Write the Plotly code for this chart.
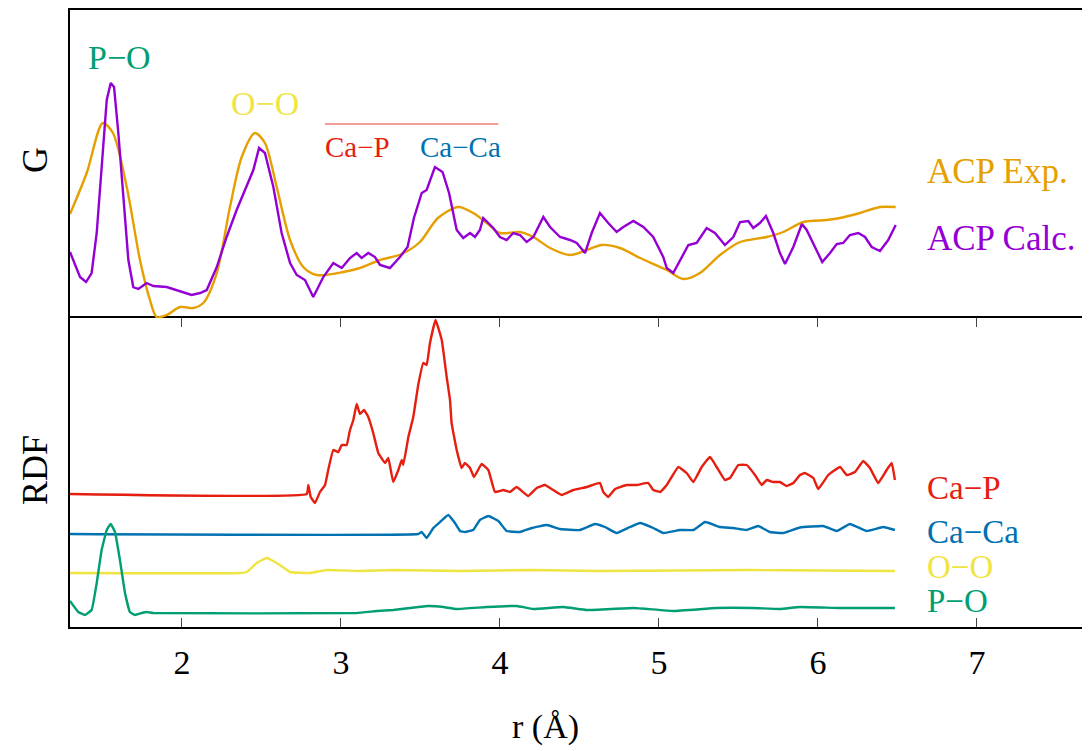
import plotly.graph_objects as go

# ---------------- data ----------------
# Top panel: total correlation G(r), arbitrary units
r_exp = [1.296, 1.401, 1.502, 1.566, 1.653, 1.736, 1.799, 1.841, 1.904, 1.988, 2.071, 2.134,
         2.219, 2.302, 2.376, 2.459, 2.522, 2.596, 2.680, 2.763, 2.847, 3.015, 3.120, 3.246,
         3.382, 3.497, 3.610, 3.738, 3.832, 3.917, 4.000, 4.126, 4.210, 4.315, 4.441, 4.546,
         4.640, 4.755, 4.881, 5.049, 5.153, 5.258, 5.384, 5.510, 5.678, 5.782, 5.908, 6.055,
         6.139, 6.264, 6.390, 6.489]
g_exp = [1.04, 1.45, 1.95, 1.85, 1.31, 0.58, 0.18, 0.01, 0.03, 0.11, 0.10, 0.15,
         0.45, 1.11, 1.61, 1.85, 1.75, 1.31, 0.78, 0.51, 0.43, 0.46, 0.50, 0.58,
         0.64, 0.76, 1.00, 1.11, 1.05, 0.95, 0.85, 0.86, 0.81, 0.70, 0.63, 0.68,
         0.73, 0.70, 0.60, 0.48, 0.39, 0.45, 0.63, 0.76, 0.81, 0.86, 0.96, 0.98,
         1.00, 1.05, 1.11, 1.11]

r_calc = [1.296, 1.359, 1.397, 1.432, 1.464, 1.495, 1.527, 1.552, 1.573, 1.600, 1.631, 1.663,
          1.694, 1.726, 1.778, 1.820, 1.904, 2.009, 2.061, 2.114, 2.156, 2.219, 2.281, 2.344,
          2.397, 2.449, 2.485, 2.522, 2.575, 2.627, 2.680, 2.722, 2.774, 2.826, 2.889, 2.952,
          3.005, 3.057, 3.099, 3.130, 3.172, 3.214, 3.246, 3.308, 3.371, 3.419, 3.459, 3.508,
          3.539, 3.591, 3.639, 3.680, 3.728, 3.769, 3.812, 3.843, 3.874, 3.895, 3.927, 3.958,
          4.000, 4.042, 4.084, 4.126, 4.168, 4.210, 4.273, 4.315, 4.378, 4.441, 4.483, 4.535,
          4.577, 4.629, 4.681, 4.734, 4.776, 4.839, 4.902, 4.964, 5.027, 5.049, 5.090, 5.132,
          5.185, 5.237, 5.300, 5.352, 5.415, 5.468, 5.510, 5.562, 5.593, 5.635, 5.673, 5.719,
          5.761, 5.793, 5.845, 5.899, 5.929, 5.981, 6.027, 6.076, 6.118, 6.159, 6.201, 6.254,
          6.296, 6.338, 6.390, 6.442, 6.489]
g_calc = [0.66, 0.41, 0.36, 0.45, 0.85, 1.51, 2.18, 2.35, 2.31, 1.85, 1.18, 0.58,
          0.31, 0.29, 0.35, 0.32, 0.31, 0.26, 0.23, 0.25, 0.28, 0.51, 0.81, 1.08,
          1.28, 1.48, 1.70, 1.65, 1.31, 0.85, 0.55, 0.43, 0.38, 0.21, 0.41, 0.55,
          0.50, 0.60, 0.65, 0.60, 0.65, 0.61, 0.53, 0.50, 0.61, 0.71, 1.00, 1.25,
          1.28, 1.51, 1.46, 1.25, 0.88, 0.80, 0.85, 0.81, 0.88, 1.00, 0.95, 0.90,
          0.81, 0.78, 0.85, 0.83, 0.76, 0.81, 1.01, 0.91, 0.81, 0.78, 0.75, 0.65,
          0.85, 1.05, 0.95, 0.86, 0.91, 0.97, 0.91, 0.81, 0.61, 0.50, 0.45, 0.58,
          0.73, 0.75, 0.90, 0.85, 0.73, 0.81, 0.96, 0.97, 0.90, 0.95, 1.02, 0.85,
          0.65, 0.54, 0.71, 0.94, 0.88, 0.71, 0.56, 0.65, 0.74, 0.75, 0.83, 0.85,
          0.81, 0.71, 0.67, 0.78, 0.93]

# Bottom panel: partial RDFs (value above each curve's own baseline)
r_cap = [1.296, 2.785, 2.795, 2.810, 2.837, 2.868, 2.900, 2.920, 2.952, 2.983, 3.005, 3.036,
         3.057, 3.078, 3.099, 3.120, 3.145, 3.172, 3.203, 3.235, 3.277, 3.298, 3.329, 3.361,
         3.382, 3.392, 3.424, 3.455, 3.486, 3.518, 3.539, 3.560, 3.595, 3.634, 3.665, 3.686,
         3.696, 3.728, 3.759, 3.780, 3.812, 3.837, 3.885, 3.927, 3.969, 4.021, 4.063, 4.105,
         4.178, 4.231, 4.283, 4.335, 4.388, 4.461, 4.546, 4.629, 4.650, 4.681, 4.724, 4.797,
         4.860, 4.933, 4.964, 5.007, 5.049, 5.122, 5.174, 5.216, 5.269, 5.321, 5.363, 5.415,
         5.447, 5.499, 5.552, 5.604, 5.646, 5.678, 5.719, 5.761, 5.803, 5.845, 5.887, 5.918,
         5.971, 6.002, 6.065, 6.139, 6.181, 6.233, 6.285, 6.327, 6.379, 6.432, 6.464, 6.484]
g_cap = [0.00, 0.00, 0.09, -0.03, -0.09, 0.02, 0.09, 0.24, 0.44, 0.42, 0.49, 0.49,
         0.64, 0.74, 0.90, 0.80, 0.84, 0.77, 0.61, 0.41, 0.31, 0.36, 0.12, 0.24,
         0.34, 0.29, 0.57, 0.77, 1.09, 1.31, 1.29, 1.51, 1.74, 1.54, 1.17, 0.94,
         0.71, 0.44, 0.26, 0.31, 0.26, 0.17, 0.30, 0.24, 0.02, 0.04, 0.02, 0.07,
         -0.02, 0.06, 0.09, 0.04, -0.01, 0.04, 0.07, 0.11, 0.02, -0.03, 0.05, 0.09,
         0.09, 0.11, 0.04, 0.02, 0.09, 0.27, 0.21, 0.12, 0.27, 0.37, 0.27, 0.14,
         0.16, 0.29, 0.29, 0.19, 0.09, 0.14, 0.12, 0.12, 0.08, 0.11, 0.19, 0.21,
         0.16, 0.05, 0.19, 0.27, 0.19, 0.22, 0.33, 0.26, 0.11, 0.24, 0.31, 0.14]

r_caca = [1.296, 3.486, 3.508, 3.539, 3.581, 3.623, 3.675, 3.717, 3.749, 3.780, 3.832, 3.874,
          3.927, 3.990, 4.042, 4.126, 4.200, 4.294, 4.378, 4.503, 4.598, 4.661, 4.734, 4.818,
          4.881, 4.964, 5.027, 5.132, 5.216, 5.290, 5.384, 5.468, 5.552, 5.625, 5.698, 5.782,
          5.887, 6.033, 6.118, 6.201, 6.306, 6.411, 6.484]
g_caca = [0.00, 0.00, 0.02, -0.04, 0.06, 0.12, 0.19, 0.11, 0.03, 0.02, 0.04, 0.14,
          0.18, 0.13, 0.03, 0.02, 0.06, 0.09, 0.05, 0.04, 0.10, 0.07, 0.01, 0.07,
          0.11, 0.06, 0.01, 0.04, 0.04, 0.12, 0.07, 0.06, 0.04, 0.08, 0.02, 0.01,
          0.065, 0.08, 0.03, 0.10, 0.03, 0.07, 0.04]

r_oo = [1.296, 2.365, 2.407, 2.470, 2.533, 2.596, 2.680, 2.805, 2.910, 3.120, 3.329, 3.749,
        4.189, 4.629, 5.132, 5.573, 6.013, 6.484]
g_oo = [0.00, 0.00, 0.01, 0.10, 0.15, 0.10, 0.01, 0.00, 0.03, 0.02, 0.03, 0.02,
        0.03, 0.02, 0.025, 0.03, 0.025, 0.02]

r_po = [1.296, 1.348, 1.390, 1.432, 1.464, 1.495, 1.527, 1.552, 1.579, 1.610, 1.642, 1.673,
        1.705, 1.747, 1.778, 1.820, 3.099, 3.225, 3.329, 3.434, 3.547, 3.644, 3.728, 3.917,
        4.105, 4.210, 4.398, 4.546, 4.839, 5.090, 5.363, 5.593, 5.761, 5.887, 6.139, 6.484]
g_po = [0.12, 0.01, -0.02, 0.03, 0.30, 0.63, 0.83, 0.89, 0.81, 0.53, 0.20, 0.01,
        -0.02, 0.00, 0.01, 0.00, 0.00, 0.02, 0.03, 0.05, 0.07, 0.06, 0.04, 0.06,
        0.07, 0.04, 0.06, 0.03, 0.05, 0.02, 0.05, 0.05, 0.04, 0.06, 0.05, 0.05]

x_ticks = [2, 3, 4, 5, 6, 7]

# ---------------- styling ----------------
ORANGE = "#E69F00"
PURPLE = "#9400D3"
RED = "#E51E10"
BLUE = "#0072B2"
YELLOW = "#F0E442"
GREEN = "#009E73"
FONT = "Liberation Serif"
LW = 2.4

# vertical offsets used to stack the RDF curves
offsets = {"Ca-P": 1.33, "Ca-Ca": 0.93, "O-O": 0.54, "P-O": 0.14}

fig = go.Figure()

fig.add_trace(go.Scatter(x=r_exp, y=g_exp, mode="lines", line=dict(color=ORANGE, width=LW, shape="spline", smoothing=0.8),
                         xaxis="x2", yaxis="y2", name="ACP Exp."))
fig.add_trace(go.Scatter(x=r_calc, y=g_calc, mode="lines", line=dict(color=PURPLE, width=LW),
                         xaxis="x2", yaxis="y2", name="ACP Calc."))

for name, rr, gg, col in [("Ca-P", r_cap, g_cap, RED), ("Ca-Ca", r_caca, g_caca, BLUE),
                          ("O-O", r_oo, g_oo, YELLOW), ("P-O", r_po, g_po, GREEN)]:
    off = offsets[name]
    fig.add_trace(go.Scatter(x=rr, y=[v + off for v in gg], mode="lines",
                             line=dict(color=col, width=LW, shape="spline", smoothing=0.3),
                             xaxis="x", yaxis="y", name=name))

XR = [1.296, 7.711]
DOM_SPLIT = 0.5008

fig.update_layout(
    width=1082, height=743,
    margin=dict(l=62, r=0, t=2, b=124),
    paper_bgcolor="white", plot_bgcolor="white",
    showlegend=False,
    xaxis=dict(range=XR, showgrid=False, zeroline=False, showline=True, linecolor="black", linewidth=2,
               domain=[0, 1], anchor="y", mirror="ticks",
               tickvals=x_ticks, ticks="inside", ticklen=9, tickwidth=1, tickcolor="#444",
               tickfont=dict(family=FONT, size=34, color="black"), ticklabelstandoff=4),
    yaxis=dict(range=[0, 3.09], domain=[0, DOM_SPLIT], anchor="x", showgrid=False, zeroline=False,
               showline=True, linecolor="black", linewidth=2, showticklabels=False, ticks=""),
    xaxis2=dict(range=XR, showgrid=False, zeroline=False, showline=True, linecolor="black", linewidth=2,
                domain=[0, 1], anchor="y2", side="top", mirror=False, matches="x",
                showticklabels=False, ticks=""),
    yaxis2=dict(range=[0, 3.08], domain=[DOM_SPLIT, 1], anchor="x2", showgrid=False, zeroline=False,
                showline=True, linecolor="black", linewidth=2, showticklabels=False, ticks=""),
)

# line over the Ca-P / Ca-Ca labels in the top panel
fig.add_shape(type="line", xref="x2", yref="y2", x0=2.90, x1=3.99, y0=1.94, y1=1.94,
              line=dict(color=RED, width=1.2), opacity=0.85)

def ann(text, x, y, color, size, xref="x2", yref="y2", xanchor="center", angle=0):
    fig.add_annotation(text=text, x=x, y=y, xref=xref, yref=yref, showarrow=False,
                       xanchor=xanchor, yanchor="middle", textangle=angle,
                       font=dict(family=FONT, size=size, color=color))

# peak labels, top panel
ann("P\u2212O", 1.610, 2.61, GREEN, 34)
ann("O\u2212O", 2.522, 2.15, YELLOW, 34)
ann("Ca\u2212P", 3.101, 1.71, RED, 29)
ann("Ca\u2212Ca", 3.755, 1.71, BLUE, 29)

LX = 6.675
# series labels, top panel
ann("ACP Exp.", LX, 1.47, ORANGE, 35, xanchor="left")
ann("ACP Calc.", LX, 0.80, PURPLE, 35, xanchor="left")

# series labels, bottom panel
ann("Ca\u2212P", LX, 1.39, RED, 33, xref="x", yref="y", xanchor="left")
ann("Ca\u2212Ca", LX, 0.95, BLUE, 33, xref="x", yref="y", xanchor="left")
ann("O\u2212O", LX, 0.60, YELLOW, 33, xref="x", yref="y", xanchor="left")
ann("P\u2212O", LX, 0.26, GREEN, 33, xref="x", yref="y", xanchor="left")

# axis titles
ann("G", -0.0343, 0.757, "black", 36, xref="paper", yref="paper", angle=-90)
ann("RDF", -0.0343, 0.2545, "black", 36, xref="paper", yref="paper", angle=-90)
ann("r (\u00c5)", 0.4657, -0.162, "black", 34, xref="paper", yref="paper")

fig.write_html("out.html")
